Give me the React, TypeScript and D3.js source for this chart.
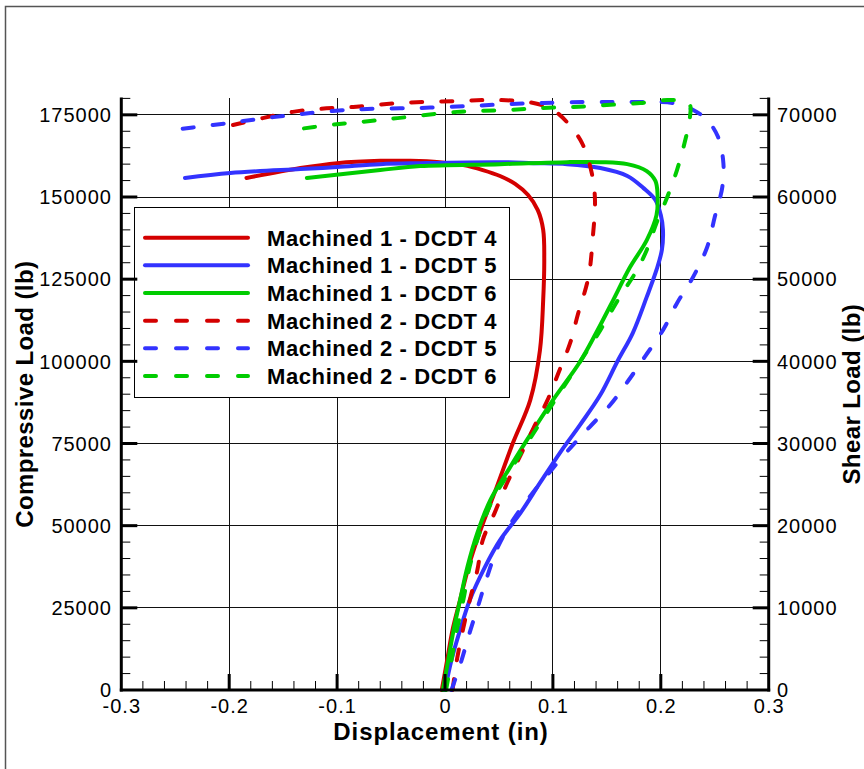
import React from "react";
import * as d3 from "d3";

// displacement (in) / compressive load (lb)
const m1d4Disp = [-0.003, 0.002, 0.007, 0.014, 0.022, 0.032, 0.048, 0.063, 0.079, 0.088, 0.091, 0.092, 0.091, 0.086, 0.077, 0.065, 0.051, 0.035, 0.017, -0.005, -0.032, -0.06, -0.1, -0.134, -0.184];
const m1d4Load = [0, 9100, 18300, 27400, 37700, 47800, 61800, 75200, 88200, 103400, 118700, 130800, 140000, 146000, 150600, 154000, 156400, 158200, 159700, 160600, 161000, 161000, 160300, 158800, 155800];

const m1d5Disp = [0, 0.006, 0.014, 0.023, 0.037, 0.051, 0.07, 0.088, 0.107, 0.125, 0.144, 0.16, 0.174, 0.187, 0.196, 0.201, 0.202, 0.2, 0.195, 0.184, 0.169, 0.144, 0.113, 0.082, 0.051, -0.023, -0.06, -0.1, -0.134, -0.199, -0.241];
const m1d5Load = [0, 9100, 18300, 27400, 37400, 45600, 53900, 63000, 72400, 80600, 89800, 100100, 108600, 119600, 127800, 133900, 140000, 144500, 149100, 152700, 156400, 158800, 160000, 160300, 160600, 160300, 160000, 159100, 158500, 157300, 155800];

const m1d6Disp = [-0.002, 0.003, 0.008, 0.014, 0.021, 0.03, 0.042, 0.057, 0.076, 0.1, 0.125, 0.14, 0.156, 0.171, 0.187, 0.196, 0.197, 0.195, 0.187, 0.169, 0.144, 0.113, 0.051, -0.023, -0.06, -0.128];
const m1d6Load = [0, 9100, 18300, 27400, 37700, 47800, 57800, 66000, 76100, 88200, 99800, 108600, 118700, 128400, 136900, 144500, 150600, 154900, 157900, 160000, 160600, 160600, 160000, 159400, 158200, 155800];

const m2d4Disp = [0.007, 0.011, 0.017, 0.023, 0.03, 0.035, 0.046, 0.058, 0.071, 0.082, 0.095, 0.105, 0.116, 0.123, 0.133, 0.137, 0.139, 0.136, 0.127, 0.113, 0.1, 0.082, 0.051, 0.011, -0.042, -0.085, -0.116, -0.141, -0.169, -0.204];
const m2d4Load = [0, 9100, 18900, 27400, 36500, 45600, 53900, 63300, 72100, 79700, 88200, 96400, 105600, 114100, 125700, 137800, 149100, 157300, 166400, 172800, 176500, 178600, 179500, 179200, 178600, 177400, 176800, 175900, 174000, 171300];

const m2d5Disp = [0.006, 0.014, 0.023, 0.031, 0.039, 0.049, 0.063, 0.081, 0.097, 0.116, 0.134, 0.153, 0.169, 0.185, 0.202, 0.215, 0.23, 0.243, 0.25, 0.257, 0.258, 0.253, 0.243, 0.23, 0.211, 0.19, 0.159, 0.128, 0.091, 0.06, 0.023, -0.023, -0.072, -0.104, -0.134, -0.159, -0.187, -0.215, -0.258];
const m2d5Load = [0, 7600, 17600, 25900, 34400, 43500, 51700, 59900, 66300, 73600, 80000, 86700, 93700, 101300, 109500, 117700, 125700, 134800, 143900, 153000, 160300, 168300, 173400, 176500, 178600, 178900, 178900, 178900, 178600, 178300, 177700, 177100, 176800, 176200, 175200, 174300, 173100, 171900, 170200];

const m2d6Disp = [0.001, 0.006, 0.011, 0.017, 0.023, 0.032, 0.044, 0.059, 0.078, 0.102, 0.125, 0.144, 0.162, 0.178, 0.187, 0.196, 0.206, 0.215, 0.222, 0.227, 0.227, 0.222, 0.206, 0.181, 0.15, 0.119, 0.091, 0.06, 0.011, -0.044, -0.079, -0.107, -0.141];
const m2d6Load = [0, 9100, 18300, 27400, 37700, 47800, 57800, 66000, 76100, 88200, 99800, 109500, 119600, 127800, 133900, 142100, 150000, 158200, 166400, 174300, 178000, 179200, 179500, 178600, 178000, 177400, 177100, 176500, 175900, 174000, 172800, 171900, 170400];

const seriesNames = [
  "Machined 1 - DCDT 4",
  "Machined 1 - DCDT 5",
  "Machined 1 - DCDT 6",
  "Machined 2 - DCDT 4",
  "Machined 2 - DCDT 5",
  "Machined 2 - DCDT 6",
];

const xTickValues = [-0.3, -0.2, -0.1, 0, 0.1, 0.2, 0.3];
const xTickLabels = ["-0.3", "-0.2", "-0.1", "0", "0.1", "0.2", "0.3"];
const leftTickValues = [0, 25000, 50000, 75000, 100000, 125000, 150000, 175000];
const rightTickValues = [0, 10000, 20000, 30000, 40000, 50000, 60000, 70000];

const RED = "#d40000";
const BLUE = "#3333ff";
const GREEN = "#00cc00";

const width = 864;
const height = 769;
const left = 121.3, right = 768.7, top = 98.4, bottom = 690;

const App = () => {
  const x = d3.scaleLinear().domain([-0.3, 0.3]).range([left, right]);
  const y = d3.scaleLinear().domain([0, 180000]).range([bottom, top]);
  const yShear = d3.scaleLinear().domain([0, 72000]).range([bottom, top]);

  const line = d3
    .line<[number, number]>()
    .x((d) => x(d[0]))
    .y((d) => y(d[1]))
    .curve(d3.curveCatmullRom.alpha(0.5));

  const zip = (a: number[], b: number[]) => a.map((v, i) => [v, b[i]] as [number, number]);

  const series = [
    { pts: zip(m1d4Disp, m1d4Load), color: RED, dashed: false },
    { pts: zip(m1d5Disp, m1d5Load), color: BLUE, dashed: false },
    { pts: zip(m1d6Disp, m1d6Load), color: GREEN, dashed: false },
    { pts: zip(m2d4Disp, m2d4Load), color: RED, dashed: true },
    { pts: zip(m2d5Disp, m2d5Load), color: BLUE, dashed: true },
    { pts: zip(m2d6Disp, m2d6Load), color: GREEN, dashed: true },
  ];

  const xMinor = d3.range(-0.3, 0.3001, 0.02).filter(
    (v) => Math.abs(Math.round(v * 10) - v * 10) > 1e-6
  );
  const leftMinor = d3.range(0, 180001, 5000).filter((v) => v % 25000 !== 0);
  const rightMinor = d3.range(0, 72001, 2000).filter((v) => v % 10000 !== 0);

  const tickFont = { fontFamily: "Liberation Sans, Arial, sans-serif", fontSize: 20, letterSpacing: 1 };
  const boldFont = { fontFamily: "Liberation Sans, Arial, sans-serif", fontWeight: 700 };

  // legend layout
  const lg = { x0: 134, y0: 207, x1: 509, y1: 397, lineX0: 143, lineX1: 250, textX: 267, row0: 237.7, rowStep: 27.65 };

  return (
    <svg width={width} height={height} style={{ position: "absolute", left: 0, top: 0, background: "#fff" }}>
      <rect x={5.5} y={6.5} width={width + 20} height={height + 20} fill="#fff" stroke="#555" strokeWidth={1.5} />

      {/* grid */}
      <g stroke="#111" strokeWidth={1} shapeRendering="crispEdges">
        {xTickValues.slice(1, -1).map((v) => (
          <line key={`gx${v}`} x1={x(v)} x2={x(v)} y1={top} y2={bottom} />
        ))}
        {leftTickValues.slice(1).map((v) => (
          <line key={`gy${v}`} x1={left} x2={right} y1={y(v)} y2={y(v)} />
        ))}
      </g>

      {/* curves */}
      <g fill="none" strokeWidth={4} strokeLinecap="round" strokeLinejoin="round">
        {series.map((s, i) => (
          <path
            key={`s${i}`}
            d={line(s.pts) || ""}
            stroke={s.color}
            strokeDasharray={s.dashed ? "11 19" : undefined}
          />
        ))}
      </g>

      {/* legend */}
      <rect x={lg.x0} y={lg.y0} width={lg.x1 - lg.x0} height={lg.y1 - lg.y0} fill="#fff" stroke="#000" strokeWidth={1} shapeRendering="crispEdges" />
      {series.map((s, i) => {
        const ry = lg.row0 + i * lg.rowStep;
        return (
          <g key={`lg${i}`}>
            <line
              x1={lg.lineX0 + 2}
              x2={lg.lineX1 - 2}
              y1={ry}
              y2={ry}
              stroke={s.color}
              strokeWidth={4}
              strokeLinecap="round"
              strokeDasharray={s.dashed ? "11 20" : undefined}
            />
            <text x={lg.textX} y={ry + 8} fontSize={22} letterSpacing={0.6} {...boldFont}>
              {seriesNames[i]}
            </text>
          </g>
        );
      })}

      {/* ticks */}
      <g stroke="#000">
        {xMinor.map((v, i) => (
          <line key={`xm${i}`} x1={x(v)} x2={x(v)} y1={bottom} y2={bottom - 9} strokeWidth={1} />
        ))}
        {xTickValues.slice(1, -1).map((v) => (
          <line key={`xM${v}`} x1={x(v)} x2={x(v)} y1={bottom} y2={bottom - 16} strokeWidth={3} />
        ))}
        {leftMinor.map((v) => (
          <line key={`lm${v}`} x1={left} x2={left + 9} y1={y(v)} y2={y(v)} strokeWidth={1} />
        ))}
        {leftTickValues.slice(1).map((v) => (
          <line key={`lM${v}`} x1={left} x2={left + 16} y1={y(v)} y2={y(v)} strokeWidth={3} />
        ))}
        {rightMinor.map((v) => (
          <line key={`rm${v}`} x1={right} x2={right - 9} y1={yShear(v)} y2={yShear(v)} strokeWidth={1} />
        ))}
        {rightTickValues.slice(1).map((v) => (
          <line key={`rM${v}`} x1={right} x2={right - 16} y1={yShear(v)} y2={yShear(v)} strokeWidth={3} />
        ))}
      </g>

      {/* axis lines */}
      <g stroke="#000" strokeWidth={3} fill="none">
        <line x1={left} x2={left} y1={top - 1} y2={bottom + 1.5} />
        <line x1={right} x2={right} y1={top - 1} y2={bottom + 1.5} />
        <line x1={left - 1.5} x2={right + 1.5} y1={bottom} y2={bottom} />
      </g>

      {/* tick labels */}
      <g {...tickFont} fill="#000">
        {xTickValues.map((v, i) => (
          <text key={`xl${v}`} x={x(v) + 0.5} y={713} textAnchor="middle">
            {xTickLabels[i]}
          </text>
        ))}
        {leftTickValues.map((v) => (
          <text key={`ll${v}`} x={112} y={y(v)} dy="0.36em" textAnchor="end">
            {d3.format("d")(v)}
          </text>
        ))}
        {rightTickValues.map((v) => (
          <text key={`rl${v}`} x={777} y={yShear(v)} dy="0.36em" textAnchor="start">
            {d3.format("d")(v)}
          </text>
        ))}
      </g>

      {/* axis titles */}
      <text x={441} y={740} textAnchor="middle" fontSize={24} letterSpacing={0.9} {...boldFont}>
        Displacement (in)
      </text>
      <text
        transform={`translate(33,${(top + bottom) / 2}) rotate(-90)`}
        textAnchor="middle"
        fontSize={24}
        letterSpacing={0.4}
        {...boldFont}
      >
        Compressive Load (lb)
      </text>
      <text
        transform={`translate(860,${(top + bottom) / 2}) rotate(-90)`}
        textAnchor="middle"
        fontSize={24}
        letterSpacing={0.4}
        {...boldFont}
      >
        Shear Load (lb)
      </text>
    </svg>
  );
};

export default App;
